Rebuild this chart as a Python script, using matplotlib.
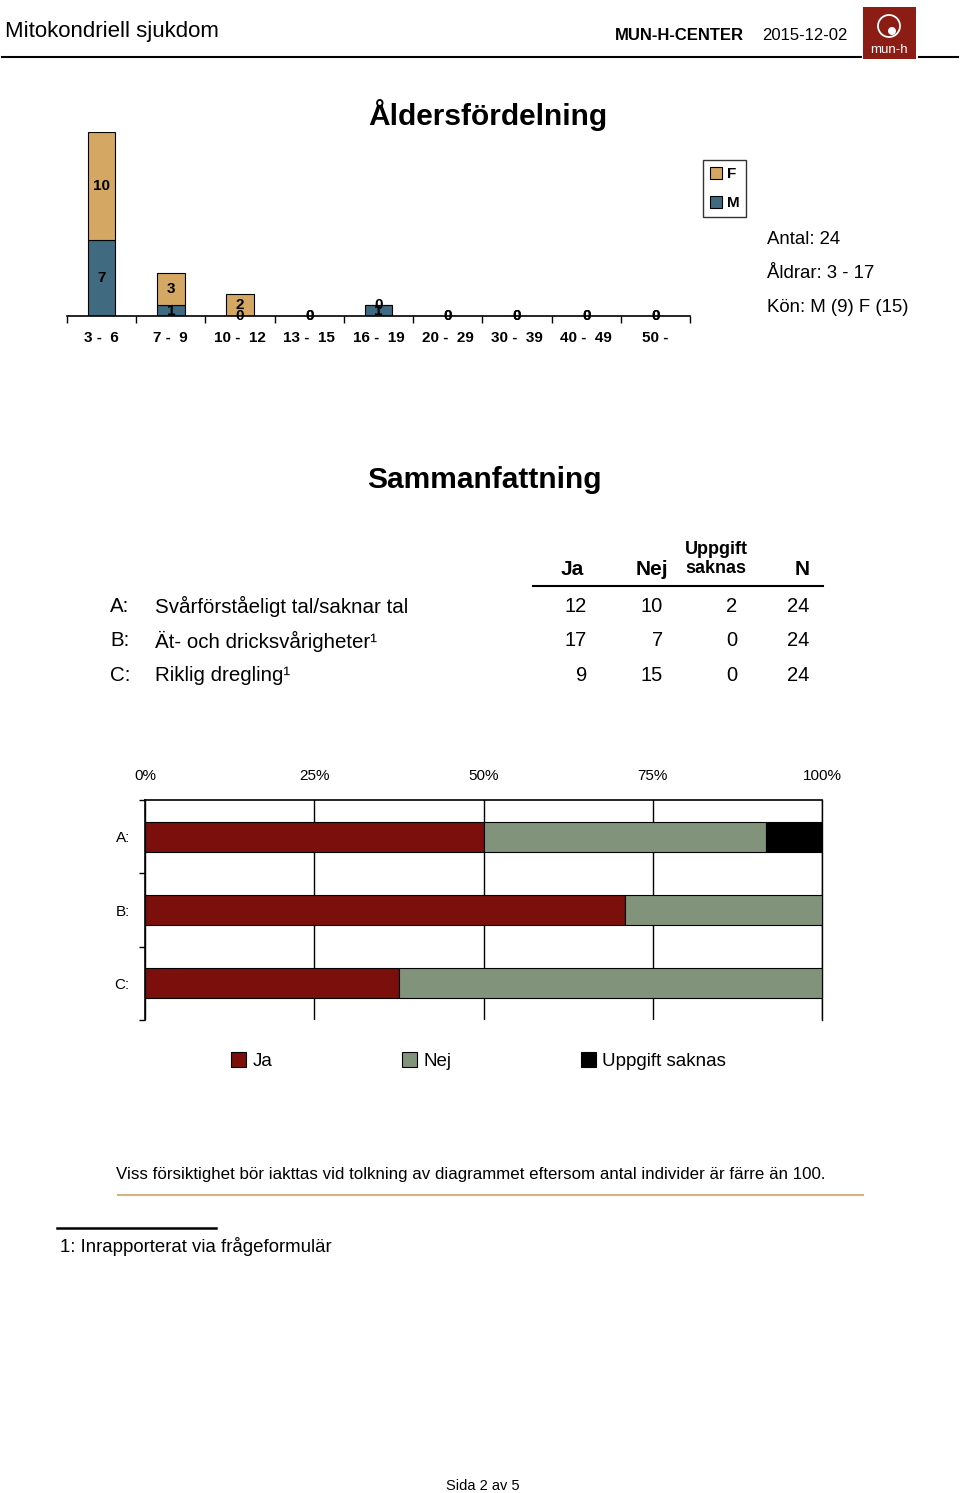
import numpy as np
import matplotlib
matplotlib.use("Agg")
import matplotlib.pyplot as plt
from matplotlib.patches import Patch, Rectangle, Circle
from matplotlib.lines import Line2D

plt.rcParams['font.family'] = ['Liberation Sans', 'DejaVu Sans']

# age distribution
age_groups = ['3 -  6', '7 -  9', '10 -  12', '13 -  15', '16 -  19',
              '20 -  29', '30 -  39', '40 -  49', '50 -']
male = [7, 1, 0, 0, 1, 0, 0, 0, 0]
female = [10, 3, 2, 0, 0, 0, 0, 0, 0]

# summary table
row_keys = ['A:', 'B:', 'C:']
row_names = ['Svårförståeligt tal/saknar tal', 'Ät- och dricksvårigheter\u00b9', 'Riklig dregling\u00b9']
ja = [12, 17, 9]
nej = [10, 7, 15]
saknas = [2, 0, 0]
n_tot = [24, 24, 24]

col_f = '#D4A862'
col_m = '#3F6A80'
col_ja = '#7B0F0C'
col_nej = '#82937B'
col_sak = '#000000'

W, H = 960, 1493
fig = plt.figure(figsize=(W / 100, H / 100), dpi=100)

def fx(x):
    return x / W

def fy(y):
    return 1 - y / H

def line(x0, x1, y, color='black', lw=1.5):
    fig.add_artist(Line2D([fx(x0), fx(x1)], [fy(y), fy(y)], color=color, lw=lw,
                          transform=fig.transFigure))

# header
fig.text(fx(5), fy(32), 'Mitokondriell sjukdom', fontsize=16, va='center', ha='left')
fig.text(fx(615), fy(35), 'MUN-H-CENTER', fontsize=12, fontweight='bold', va='center', ha='left')
fig.text(fx(762), fy(35), '2015-12-02', fontsize=12, va='center', ha='left')
line(2, 861, 57)
line(919, 958, 57)
fig.add_artist(Rectangle((fx(863), fy(59)), fx(53), 52 / H, facecolor='#8B1D14',
                         edgecolor='none', transform=fig.transFigure))
# logo ring, drawn in inches so it stays round
fig.add_artist(Circle((889 / 100, (H - 26) / 100), 0.11, facecolor='none', edgecolor='white',
                      lw=1.3, transform=fig.dpi_scale_trans))
fig.add_artist(Circle((892 / 100, (H - 31) / 100), 0.04, facecolor='white', edgecolor='none',
                      transform=fig.dpi_scale_trans))
fig.text(fx(889), fy(50), 'mun-h', color='white', fontsize=9.5, ha='center', va='center')

# age histogram
fig.text(fx(488), fy(115), 'Åldersfördelning', fontsize=21.5, fontweight='bold', ha='center', va='center')
ax1 = fig.add_axes([fx(67), fy(316), 623 / W, 184 / H])
x = np.arange(len(age_groups))
m = np.array(male)
f = np.array(female)
ax1.bar(x, m, 0.4, color=col_m, edgecolor='black', lw=0.8)
ax1.bar(x, f, 0.4, bottom=m, color=col_f, edgecolor='black', lw=0.8)
for i in x:
    ax1.text(i, m[i] / 2, str(m[i]), ha='center', va='center', fontsize=11, fontweight='bold')
    ax1.text(i, m[i] + f[i] / 2, str(f[i]), ha='center', va='center', fontsize=11, fontweight='bold')
ax1.set_xlim(-0.5, len(age_groups) - 0.5)
ax1.set_ylim(0, 17)
for s in ['top', 'right', 'left']:
    ax1.spines[s].set_visible(False)
ax1.spines['bottom'].set_linewidth(1.2)
ax1.set_yticks([])
ax1.set_xticks(np.arange(-0.5, len(age_groups)), labels=[''] * (len(age_groups) + 1))
ax1.tick_params(axis='x', which='major', length=5, width=1)
ax1.set_xticks(x, labels=age_groups, minor=True)
ax1.tick_params(axis='x', which='minor', length=0, pad=11, labelsize=11)
for t in ax1.get_xticklabels(minor=True):
    t.set_fontweight('bold')
ax1.patch.set_visible(False)

fig.legend(handles=[Patch(facecolor=col_f, edgecolor='black', lw=0.8),
                    Patch(facecolor=col_m, edgecolor='black', lw=0.8)],
           labels=['F', 'M'], loc='upper left', bbox_to_anchor=(fx(703), fy(160)),
           prop={'weight': 'bold', 'size': 11}, frameon=True, fancybox=False,
           edgecolor='black', handlelength=0.8, handleheight=0.8, handletextpad=0.3,
           borderpad=0.45, labelspacing=1.0, borderaxespad=0)

fig.text(fx(767), fy(240), 'Antal: 24', fontsize=13.4, va='center')
fig.text(fx(767), fy(274), 'Åldrar: 3 - 17', fontsize=13.4, va='center')
fig.text(fx(767), fy(308), 'Kön: M (9) F (15)', fontsize=13.4, va='center')

# summary table
fig.text(fx(484), fy(480), 'Sammanfattning', fontsize=21.5, fontweight='bold', ha='center', va='center')
fig.text(fx(584), fy(569), 'Ja', fontsize=15, fontweight='bold', ha='right', va='center')
fig.text(fx(668), fy(569), 'Nej', fontsize=15, fontweight='bold', ha='right', va='center')
fig.text(fx(716), fy(559), 'Uppgift\nsaknas', fontsize=13, fontweight='bold', ha='center',
         va='center', linespacing=1.15)
fig.text(fx(810), fy(569), 'N', fontsize=15, fontweight='bold', ha='right', va='center')
line(533, 823, 586, lw=1.5)
row_y = [606, 641, 676]
for k in range(len(row_keys)):
    yy = fy(row_y[k])
    fig.text(fx(110), yy, row_keys[k], fontsize=14.8, va='center')
    fig.text(fx(155), yy, row_names[k], fontsize=14.8, va='center')
    fig.text(fx(587), yy, str(ja[k]), fontsize=14.5, ha='right', va='center')
    fig.text(fx(663), yy, str(nej[k]), fontsize=14.5, ha='right', va='center')
    fig.text(fx(737), yy, str(saknas[k]), fontsize=14.5, ha='right', va='center')
    fig.text(fx(809), yy, str(n_tot[k]), fontsize=14.5, ha='right', va='center')

# stacked percentage bars
ax2 = fig.add_axes([fx(145), fy(1020), 677 / W, 220 / H])
yk = np.arange(len(row_keys))
tot = np.array(n_tot, dtype=float)
p_ja = np.array(ja) / tot * 100
p_nej = np.array(nej) / tot * 100
p_sak = np.array(saknas) / tot * 100
ax2.barh(yk, p_ja, 0.41, color=col_ja, edgecolor='black', lw=0.8, zorder=3)
ax2.barh(yk, p_nej, 0.41, left=p_ja, color=col_nej, edgecolor='black', lw=0.8, zorder=3)
ax2.barh(yk, p_sak, 0.41, left=p_ja + p_nej, color=col_sak, edgecolor='black', lw=0.8, zorder=3)
ax2.set_xlim(0, 100)
ax2.set_ylim(len(row_keys) - 0.5, -0.5)
ax2.spines['bottom'].set_visible(False)
ax2.spines['right'].set_linewidth(1.0)
ax2.spines['top'].set_linewidth(1.2)
ax2.spines['left'].set_linewidth(1.2)
ax2.xaxis.tick_top()
ax2.set_xticks([0, 25, 50, 75, 100], labels=['0%', '25%', '50%', '75%', '100%'])
ax2.tick_params(axis='x', length=0, pad=12, labelsize=11)
ax2.grid(axis='x', color='black', lw=1.0, zorder=0)
ax2.set_yticks(np.arange(-0.5, len(row_keys)), labels=[''] * (len(row_keys) + 1))
ax2.tick_params(axis='y', which='major', length=4, width=1)
ax2.set_yticks(yk, labels=row_keys, minor=True)
ax2.tick_params(axis='y', which='minor', length=0, pad=11, labelsize=11)

fig.legend(handles=[Patch(facecolor=col_ja, edgecolor='black', lw=0.8),
                    Patch(facecolor=col_nej, edgecolor='black', lw=0.8),
                    Patch(facecolor=col_sak, edgecolor='black', lw=0.8)],
           labels=['Ja', 'Nej', 'Uppgift saknas'], ncol=3, loc='center left',
           bbox_to_anchor=(fx(231), fy(1061)), frameon=False, fontsize=13.5,
           handlelength=0.8, handleheight=0.8, handletextpad=0.35, columnspacing=6.9,
           borderaxespad=0, borderpad=0)

# notes
fig.text(fx(116), fy(1174), 'Viss försiktighet bör iakttas vid tolkning av diagrammet eftersom antal individer är färre än 100.',
         fontsize=12.2, va='center')
line(118, 863, 1195, color='#D4B483', lw=1.5)
line(57, 216, 1228, lw=1.8)
fig.text(fx(60), fy(1247), '1: Inrapporterat via frågeformulär', fontsize=13.4, va='center')
fig.text(fx(483), fy(1486), 'Sida 2 av 5', fontsize=10.5, ha='center', va='center')

fig.savefig('out.png', dpi=100)
